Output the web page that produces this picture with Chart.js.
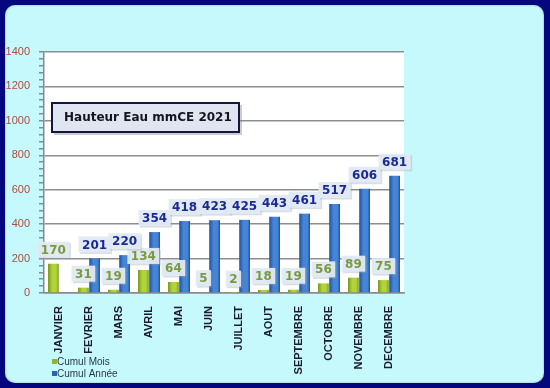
<!DOCTYPE html>
<html><head><meta charset="utf-8">
<script src="https://cdn.jsdelivr.net/npm/chart.js@4"></script>
<style>
html,body{margin:0;padding:0;background:#06067e;width:550px;height:388px;overflow:hidden}
#panel{position:absolute;left:5px;top:5px;width:539px;height:378px;background:#c6f9fc;border-radius:10px;box-shadow:inset 0 0 2px #7aa;}
canvas{display:block}
</style></head><body>
<div id="panel"><canvas id="c" width="539" height="378"></canvas></div>
<script>
const categories = ['JANVIER','FEVRIER','MARS','AVRIL','MAI','JUIN','JUILLET','AOUT','SEPTEMBRE','OCTOBRE','NOVEMBRE','DECEMBRE'];
const cumulMois = [170,31,19,134,64,5,2,18,19,56,89,75];
const cumulAnnee = [null,201,220,354,418,423,425,443,461,517,606,681];
const yTickValues = [0,200,400,600,800,1000,1200,1400];
const titleText = 'Hauteur Eau mmCE 2021';
const seriesNames = ['Cumul Mois','Cumul Année'];

function grad(ctx, light, dark, side){
  const chart = ctx.chart;
  const xs = chart.scales && chart.scales.x;
  if(!xs || ctx.dataIndex === undefined) return light;
  const c = xs.getPixelForValue(ctx.dataIndex) + side*5.6;
  if(!isFinite(c)) return light;
  const g = chart.ctx.createLinearGradient(c-5.5, 0, c+5.5, 0);
  g.addColorStop(0, dark); g.addColorStop(0.4, light); g.addColorStop(0.75, light); g.addColorStop(1, dark);
  return g;
}

const bgPlugin = {
  id:'plotBg',
  beforeDraw(chart){
    const a = chart.chartArea, ctx = chart.ctx;
    ctx.save(); ctx.fillStyle = '#ffffff';
    ctx.fillRect(a.left, a.top, a.right-a.left, a.bottom-a.top);
    ctx.restore();
  }
};

const labelPlugin = {
  id:'valLabels',
  afterDatasetsDraw(chart){
    const ctx = chart.ctx;
    const cols = ['#7b9a3e','#1b2a92'];
    const fonts = ['bold 12px "DejaVu Sans"','bold 12px "DejaVu Sans"'];
    chart.data.datasets.forEach((ds,di)=>{
      const meta = chart.getDatasetMeta(di);
      meta.data.forEach((el,i)=>{
        const v = ds.data[i];
        if(v===null||v===undefined) return;
        const t = String(v);
        ctx.save();
        ctx.font = fonts[di];
        const w = ctx.measureText(t).width + 7;
        const h = 16;
        const cx = el.x, cy = el.y - 14;
        ctx.fillStyle = 'rgba(150,160,175,0.35)';
        ctx.fillRect(cx-w/2+1.5, cy-h/2+1.5, w, h);
        ctx.fillStyle = 'rgba(226,234,243,0.95)';
        ctx.fillRect(cx-w/2, cy-h/2, w, h);
        ctx.fillStyle = cols[di];
        ctx.textAlign='center'; ctx.textBaseline='middle';
        ctx.fillText(t, cx, cy+1);
        ctx.restore();
      });
    });
  }
};

const boxPlugin = {
  id:'titleLegend',
  afterDraw(chart){
    const ctx = chart.ctx;
    ctx.save();
    ctx.fillStyle = 'rgba(120,130,150,0.4)';
    ctx.fillRect(49,100,188,30);
    ctx.fillStyle = '#dfe6f2';
    ctx.fillRect(47,98,187,29);
    ctx.strokeStyle = '#15163a'; ctx.lineWidth = 2;
    ctx.strokeRect(47,98,187,29);
    ctx.fillStyle = '#15151f';
    ctx.font = 'bold 12px "DejaVu Sans"';
    ctx.textBaseline='middle'; ctx.textAlign='left';
    ctx.fillText(titleText, 59, 113);
    const lc = ['#8fb62a','#2c64b4'];
    ctx.font = '10px "Liberation Sans"';
    chart.data.datasets.forEach((ds,i)=>{
      const y = 357 + i*12;
      ctx.fillStyle = lc[i];
      ctx.fillRect(47, y-3, 5, 5);
      ctx.fillStyle = '#27384a';
      ctx.fillText(ds.label, 52, y);
    });
    ctx.restore();
  }
};

const chart = new Chart(document.getElementById('c'), {
  type:'bar',
  data:{
    labels: categories,
    datasets:[
      {label:seriesNames[0], data:cumulMois,
       backgroundColor: c=>grad(c,'#b2d43a','#76961a',-1),
       categoryPercentage:0.75, barPercentage:0.96},
      {label:seriesNames[1], data:cumulAnnee,
       backgroundColor: c=>grad(c,'#4585d8','#1f4f9c',1),
       categoryPercentage:0.75, barPercentage:0.96}
    ]
  },
  options:{
    responsive:false, animation:false,
    layout:{padding:{left:0,top:47,right:140,bottom:0}},
    plugins:{legend:{display:false}, tooltip:{enabled:false}, title:{display:false}},
    scales:{
      x:{
        grid:{display:false},
        border:{display:true,color:'#8a8a8a',width:1.5},
        ticks:{minRotation:90,maxRotation:90,autoSkip:false,padding:5,color:'#1c1c2c',
               font:{family:'Liberation Sans',size:11,weight:'bold'}},
        afterFit(s){ s.height = 90; }
      },
      y:{
        min:0,max:1400,
        afterBuildTicks(s){
          const t=[]; for(let v=0; v<=1400; v+=40) t.push({value:v});
          s.ticks = t;
        },
        grid:{
          color: c => (c.tick && yTickValues.includes(c.tick.value)) ? '#8d8d8d' : 'rgba(0,0,0,0)',
          tickColor:'#8a8a8a', lineWidth:1.5, tickLength:5, drawTicks:true
        },
        border:{display:true,color:'#8a8a8a',width:1.5},
        ticks:{
          autoSkip:false,
          padding:9, color:'#b24a3e',
          font:{family:'Liberation Sans',size:11},
          callback:(v)=> yTickValues.includes(v) ? String(v) : ''
        },
        afterFit(s){ s.width = 39; }
      }
    }
  },
  plugins:[bgPlugin, labelPlugin, boxPlugin]
});
chart.update();
</script>
</body></html>
